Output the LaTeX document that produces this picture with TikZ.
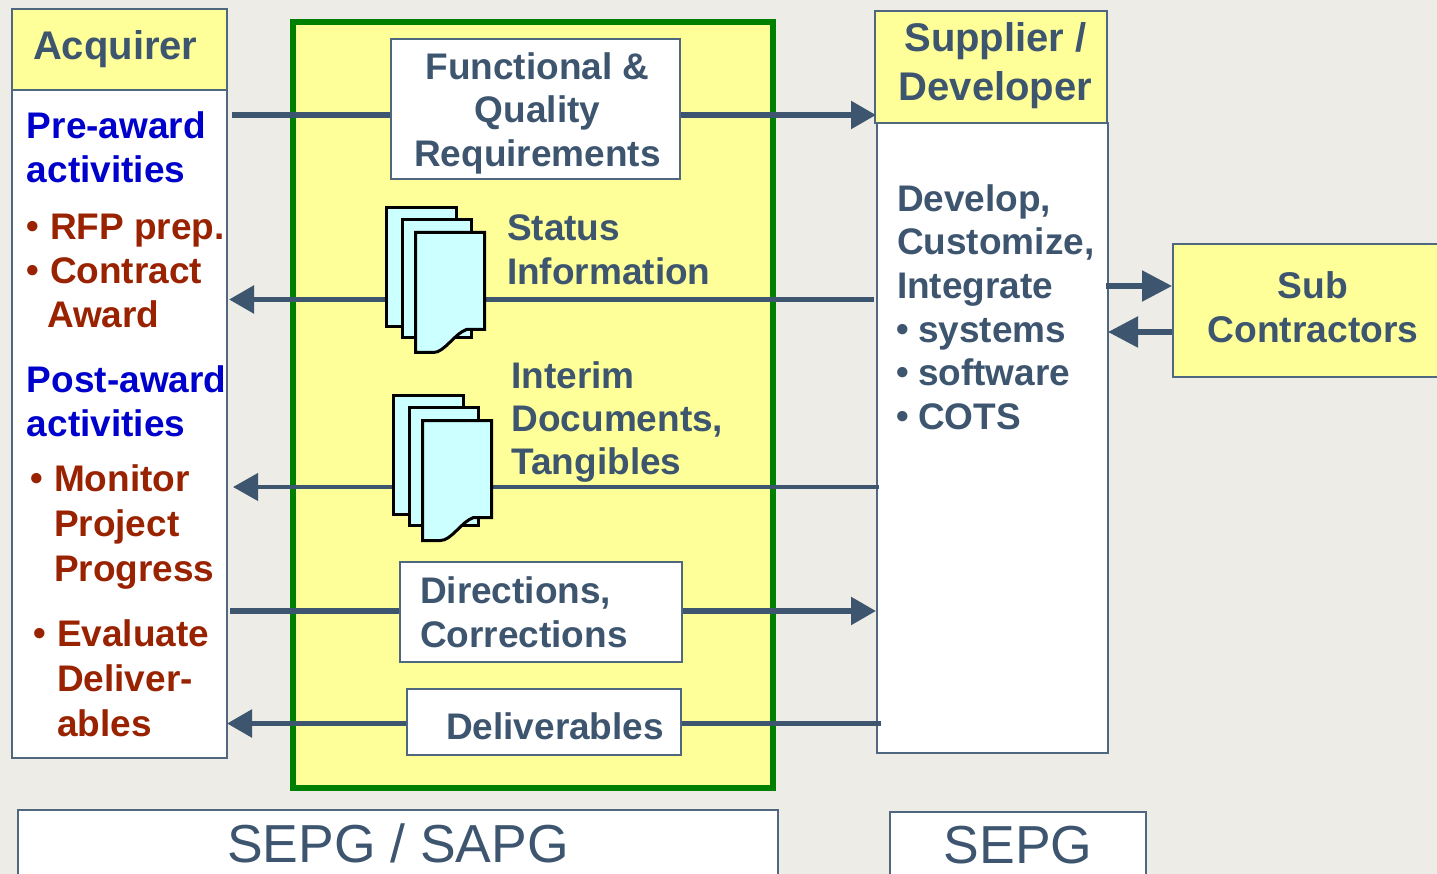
\documentclass[tikz,border=0pt]{standalone}
\usepackage{fontspec}
\setmainfont{Liberation Sans}
\usetikzlibrary{arrows.meta}
\definecolor{bgc}{HTML}{EDECE6}
\definecolor{pale}{HTML}{FFFF99}
\definecolor{slate}{HTML}{3D556E}
\definecolor{edgec}{HTML}{4F6880}
\definecolor{dred}{HTML}{992200}
\definecolor{dblue}{HTML}{0000CC}
\definecolor{dgreen}{HTML}{008000}
\definecolor{sheetc}{HTML}{CCFFFF}
\newcommand{\fs}[2]{\fontsize{#1}{#2}\selectfont}
\newcommand{\bu}[1][11pt]{\leavevmode\llap{\raisebox{1pt}{\fontsize{36}{36}\selectfont\textbullet}\hspace{#1}}}
\tikzset{
  x=1pt,y=-1pt,
  every node/.style={outer sep=0pt},
  box/.style={draw=edgec,line width=1.4pt,fill=white},
  hd/.style={draw=edgec,line width=1.4pt,fill=pale},
  lab/.style={anchor=north west,inner sep=0pt,align=left,font=\bfseries\fs{37}{44},text=slate},
  labc/.style={inner sep=0pt,align=center,font=\bfseries\fs{37}{44},text=slate},
  redl/.style={lab,text=dred},
  bluel/.style={lab,text=dblue},
  conn/.style={slate,line width=5.4pt},
  connt/.style={slate,line width=4pt},
  tip/.style={-{Triangle[length=25pt,width=27pt]}},
  bigtip/.style={-{Triangle[length=30pt,width=30pt]}},
  sheet/.style={draw=black,line width=3pt,fill=sheetc,line join=miter},
  pics/stack/.style={code={
    \path[sheet] (0,0) rectangle (70,119);
    \path[sheet] (16,12) rectangle (85,130);
    \path[sheet] (29,25) -- (98,25) -- (98,122) -- (80,122) .. controls (68,126) and (58,145) .. (47,145) -- (29,145) -- cycle;
  }}
}
\begin{document}
\begin{tikzpicture}
\useasboundingbox[fill=bgc] (0,0) rectangle (1437,874);
% panels
\path[hd] (12,9) rectangle (227,90);
\path[box] (12,90) rectangle (227,758);
\node[draw=dgreen,line width=5.5pt,fill=pale,anchor=north west,minimum width=480pt,minimum height=766pt,inner sep=0pt] (work) at (293,22) {};
\path[hd] (875,11) rectangle (1107,123);
\path[box] (877,123) rectangle (1108,753);
% anchor coordinates of the connectors
\coordinate (aq1) at (232,115);   \coordinate (su1) at (876,115);
\coordinate (su2) at (874,299.5); \coordinate (aq2) at (229,299.5);
\coordinate (su3) at (879,487);   \coordinate (aq3) at (233,487);
\coordinate (aq4) at (230,611);   \coordinate (su4) at (876,611);
\coordinate (su5) at (881,723.5); \coordinate (aq5) at (227,723.5);
\coordinate (sd1) at (1106,286);  \coordinate (sb1) at (1172,286);
\coordinate (sb2) at (1173,332);  \coordinate (sd2) at (1108,332);
% connectors
\draw[conn,tip] (aq1) -- (su1);
\draw[conn,tip] (su2) -- (aq2);
\draw[connt,tip] (su3) -- (aq3);
\draw[conn,tip] (aq4) -- (su4);
\draw[conn,tip] (su5) -- (aq5);
\draw[conn,bigtip] (sd1) -- (sb1);
\draw[conn,bigtip] (sb2) -- (sd2);
% inner boxes
\node[box,anchor=north west,minimum width=289pt,minimum height=140pt,inner sep=0pt] (fq) at (391,39) {};
\node[box,anchor=north west,minimum width=282pt,minimum height=100pt,inner sep=0pt] (dc) at (400,562) {};
\node[box,anchor=north west,minimum width=274pt,minimum height=66pt,inner sep=0pt] (dl) at (407,689) {};
\node[hd,anchor=north west,minimum width=270pt,minimum height=133pt,inner sep=0pt] (sub) at (1173,244) {};
\node[box,anchor=north west,minimum width=760pt,minimum height=80pt,inner sep=0pt] (sa) at (18,810) {};
\node[box,anchor=north west,minimum width=256pt,minimum height=80pt,inner sep=0pt] (se) at (890,812) {};
\path (386.5,207.5) pic {stack};
\path (393.5,395.5) pic {stack};
% texts
\node[lab,font=\bfseries\fs{40}{44}] (t1) at (33,31) {Acquirer};
\node[bluel] (t2) at (27,111.5) {Pre-award\\activities};
\node[redl,font=\bfseries\fs{37}{43.5}] (t3) at (50,214.5) {\bu RFP prep.\\\bu Contract};
\node[redl] (t3b) at (47,301) {Award};
\node[bluel] (t4) at (27,366) {Post-award\\activities};
\node[redl,font=\bfseries\fs{37}{45}] (t5) at (54,465) {\bu Monitor\\Project\\Progress};
\node[redl,font=\bfseries\fs{37}{45}] (t6) at (57,620) {\bu Evaluate\\Deliver-\\ables};
\node[labc,font=\bfseries\fs{37}{43.5}] (t7) at (537.5,113) {Functional \&\\Quality\\Requirements};
\node[lab,font=\bfseries\fs{37}{43.5}] (t8) at (507,215) {Status\\Information};
\node[lab,font=\bfseries\fs{37}{43}] (t9) at (511.5,362) {Interim\\Documents,\\Tangibles};
\node[lab,font=\bfseries\fs{37}{44}] (t10) at (420,577) {Directions,\\Corrections};
\node[lab] (t11) at (446,713) {Deliverables};
\node[labc,font=\bfseries\fs{40}{49}] (t12) at (995.5,66) {Supplier /\\Developer};
\node[lab,font=\bfseries\fs{37}{43.6}] (t13) at (897,184.5) {Develop,\\Customize,\\Integrate\\\hspace*{21pt}\bu[9pt]systems\\\hspace*{21pt}\bu[9pt]software\\\hspace*{21pt}\bu[9pt]COTS};
\node[labc,font=\bfseries\fs{37.2}{44}] (t14) at (1313,307) {Sub\\Contractors};
\node[inner sep=0pt,font=\fs{53.5}{55},text=slate] (t15) at (398,843) {SEPG / SAPG};
\node[inner sep=0pt,font=\fs{53.5}{55},text=slate] (t16) at (1018,845) {SEPG};
\end{tikzpicture}
\end{document}
